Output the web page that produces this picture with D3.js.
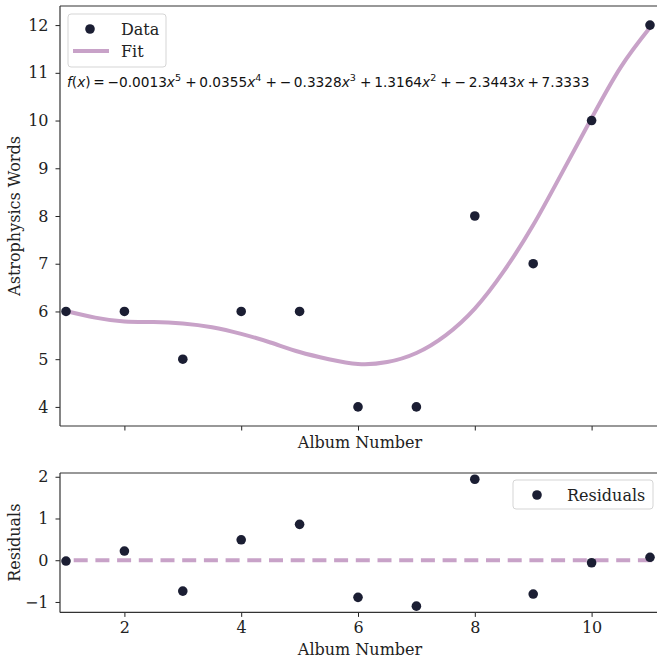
<!DOCTYPE html>
<html>
<head>
<meta charset="utf-8">
<script src="https://cdn.jsdelivr.net/npm/d3@7"></script>
<style>
  html, body { margin: 0; padding: 0; background: #fff; }
  svg { display: block; }
</style>
</head>
<body>
<svg id="chart" width="657" height="661"></svg>
<script>
// ---- data ----
const albums = [1, 2, 3, 4, 5, 6, 7, 8, 9, 10, 11];
const words = [6, 6, 5, 6, 6, 4, 4, 8, 7, 10, 12];
const residuals = [-0.02, 0.22, -0.74, 0.49, 0.86, -0.89, -1.10, 1.94, -0.81, -0.06, 0.07];
const fitX = [1, 1.5, 2, 2.5, 3, 3.5, 4, 4.5, 5, 5.5, 6, 6.5, 7, 7.5, 8, 8.5, 9, 9.5, 10, 10.5, 11];
const fitY = [6.01, 5.87, 5.79, 5.78, 5.75, 5.67, 5.53, 5.35, 5.15, 5.00, 4.90, 4.94, 5.13, 5.50, 6.06, 6.85, 7.81, 8.92, 10.05, 11.12, 11.95];
const coeffs = [-0.0013, 0.0355, -0.3328, 1.3164, -2.3443, 7.3333];
const topYTicks = [4, 5, 6, 7, 8, 9, 10, 11, 12];
const resYTicks = [-1, 0, 1, 2];
const xTicks = [2, 4, 6, 8, 10];

// ---- styling ----
const dotColor = "#1b1e33";
const fitColor = "#c8a2c8";
const serif = "'DejaVu Serif', serif";
const fs = 16;

const svg = d3.select("#chart");

const left = 60;
const topP = { top: 6, bottom: 426 };
const botP = { top: 473, bottom: 612.4 };

const x = d3.scaleLinear().domain([1, 11]).range([66, 650]);
const yTop = d3.scaleLinear().domain([3.6, 12.4]).range([topP.bottom, topP.top]);
const yRes = d3.scaleLinear().domain([-1.25, 2.09]).range([botP.bottom, botP.top]);

const defs = svg.append("defs");
defs.append("clipPath").attr("id", "clipTop")
  .append("rect").attr("x", left).attr("y", topP.top).attr("width", 657 - left).attr("height", topP.bottom - topP.top);
defs.append("clipPath").attr("id", "clipBot")
  .append("rect").attr("x", left).attr("y", botP.top).attr("width", 657 - left).attr("height", botP.bottom - botP.top);

function styleAxis(g) {
  g.select(".domain").remove();
  g.selectAll(".tick line").attr("stroke", "#222").attr("stroke-width", 1);
  g.selectAll(".tick text").attr("font-family", serif).attr("font-size", fs).attr("fill", "#222");
}

// ===== TOP PANEL =====
const gTop = svg.append("g");
gTop.append("g").attr("transform", `translate(${left},0)`)
  .call(d3.axisLeft(yTop).tickValues(topYTicks).tickSize(4.5).tickPadding(7).tickFormat(d3.format("d")))
  .call(styleAxis);
gTop.append("g").attr("transform", `translate(0,${topP.bottom})`)
  .call(d3.axisBottom(x).tickValues(xTicks).tickSize(4.5).tickFormat(""))
  .call(styleAxis);

const plotTop = gTop.append("g").attr("clip-path", "url(#clipTop)");
const line = d3.line().x((d, i) => x(fitX[i])).y(d => yTop(d)).curve(d3.curveNatural);
plotTop.append("path").datum(fitY).attr("d", line)
  .attr("fill", "none").attr("stroke", fitColor).attr("stroke-width", 4).attr("stroke-linecap", "butt");
plotTop.selectAll("circle.pt").data(words).enter().append("circle")
  .attr("cx", (d, i) => x(albums[i])).attr("cy", d => yTop(d)).attr("r", 4.8).attr("fill", dotColor);

// spines
gTop.append("line").attr("x1", left).attr("x2", 657).attr("y1", topP.top).attr("y2", topP.top).attr("stroke", "#333").attr("stroke-width", 1.2);
gTop.append("line").attr("x1", left).attr("x2", 657).attr("y1", topP.bottom).attr("y2", topP.bottom).attr("stroke", "#333").attr("stroke-width", 1.2);
gTop.append("line").attr("x1", left).attr("x2", left).attr("y1", topP.top).attr("y2", topP.bottom).attr("stroke", "#333").attr("stroke-width", 1.2);

// labels
gTop.append("text").attr("x", 360).attr("y", 448).attr("text-anchor", "middle")
  .attr("font-family", serif).attr("font-size", fs).attr("fill", "#222").text("Album Number");
gTop.append("text").attr("transform", `translate(20,${(topP.top + topP.bottom) / 2}) rotate(-90)`)
  .attr("text-anchor", "middle").attr("font-family", serif).attr("font-size", fs).attr("fill", "#222").text("Astrophysics Words");

// legend top
const lg = gTop.append("g");
lg.append("rect").attr("x", 68).attr("y", 14).attr("width", 98).attr("height", 53).attr("rx", 3)
  .attr("fill", "#fff").attr("fill-opacity", 0.8).attr("stroke", "#d5d5d5").attr("stroke-width", 1);
lg.append("circle").attr("cx", 90).attr("cy", 29).attr("r", 4.8).attr("fill", dotColor);
lg.append("text").attr("x", 121).attr("y", 34.5).attr("font-family", serif).attr("font-size", fs).attr("fill", "#222").text("Data");
lg.append("line").attr("x1", 73).attr("x2", 109).attr("y1", 51).attr("y2", 51).attr("stroke", fitColor).attr("stroke-width", 4);
lg.append("text").attr("x", 121).attr("y", 57).attr("font-family", serif).attr("font-size", fs).attr("fill", "#222").text("Fit");

// equation
const eq = gTop.append("text").attr("x", 67).attr("y", 86.5)
  .attr("font-family", "'DejaVu Sans', sans-serif").attr("fill", "#111");
function buildEq(size) {
  eq.selectAll("*").remove();
  eq.attr("font-size", size);
  const sup = size * 0.7, shift = size * 0.4;
  eq.append("tspan").attr("font-style", "italic").text("f");
  eq.append("tspan").text("(");
  eq.append("tspan").attr("font-style", "italic").text("x");
  eq.append("tspan").text(")\u2009=\u2009");
  const powers = [5, 4, 3, 2, 1, 0];
  coeffs.forEach((c, i) => {
    let s;
    if (i === 0) s = (c < 0 ? "\u2212" : "") + Math.abs(c).toFixed(4);
    else s = "\u2009+\u2009" + (c < 0 ? "\u2212\u2009" : "") + Math.abs(c).toFixed(4);
    eq.append("tspan").text(s);
    const p = powers[i];
    if (p >= 1) eq.append("tspan").attr("font-style", "italic").text("x");
    if (p >= 2) {
      eq.append("tspan").attr("font-size", sup).attr("dy", -shift).text(String(p));
      eq.append("tspan").attr("dy", shift).text("\u200a");
    }
  });
}
buildEq(13);
const w0 = eq.node().getComputedTextLength();
if (w0 > 0) buildEq(13 * 523 / w0);

// ===== BOTTOM PANEL =====
const gBot = svg.append("g");
gBot.append("g").attr("transform", `translate(${left},0)`)
  .call(d3.axisLeft(yRes).tickValues(resYTicks).tickSize(4.5).tickPadding(7).tickFormat(d => d < 0 ? "\u2212" + Math.abs(d) : d))
  .call(styleAxis);
gBot.append("g").attr("transform", `translate(0,${botP.bottom})`)
  .call(d3.axisBottom(x).tickValues(xTicks).tickSize(4.5).tickPadding(5))
  .call(styleAxis);

const plotBot = gBot.append("g").attr("clip-path", "url(#clipBot)");
plotBot.append("line").attr("x1", x(1)).attr("x2", 660).attr("y1", yRes(0)).attr("y2", yRes(0))
  .attr("stroke", fitColor).attr("stroke-width", 4).attr("stroke-dasharray", "14,7.7").attr("stroke-dashoffset", 14);
plotBot.selectAll("circle.res").data(residuals).enter().append("circle")
  .attr("cx", (d, i) => x(albums[i])).attr("cy", d => yRes(d)).attr("r", 4.8).attr("fill", dotColor);

gBot.append("line").attr("x1", left).attr("x2", 657).attr("y1", botP.top).attr("y2", botP.top).attr("stroke", "#333").attr("stroke-width", 1.2);
gBot.append("line").attr("x1", left).attr("x2", 657).attr("y1", botP.bottom).attr("y2", botP.bottom).attr("stroke", "#333").attr("stroke-width", 1.2);
gBot.append("line").attr("x1", left).attr("x2", left).attr("y1", botP.top).attr("y2", botP.bottom).attr("stroke", "#333").attr("stroke-width", 1.2);

gBot.append("text").attr("x", 360).attr("y", 655).attr("text-anchor", "middle")
  .attr("font-family", serif).attr("font-size", fs).attr("fill", "#222").text("Album Number");
gBot.append("text").attr("transform", `translate(20,${(botP.top + botP.bottom) / 2}) rotate(-90)`)
  .attr("text-anchor", "middle").attr("font-family", serif).attr("font-size", fs).attr("fill", "#222").text("Residuals");

const lb = gBot.append("g");
lb.append("rect").attr("x", 513).attr("y", 480).attr("width", 140).attr("height", 29).attr("rx", 3)
  .attr("fill", "#fff").attr("fill-opacity", 0.8).attr("stroke", "#d5d5d5").attr("stroke-width", 1);
lb.append("circle").attr("cx", 537).attr("cy", 495).attr("r", 4.8).attr("fill", dotColor);
lb.append("text").attr("x", 567).attr("y", 500.5).attr("font-family", serif).attr("font-size", fs).attr("fill", "#222").text("Residuals");
</script>
</body>
</html>
